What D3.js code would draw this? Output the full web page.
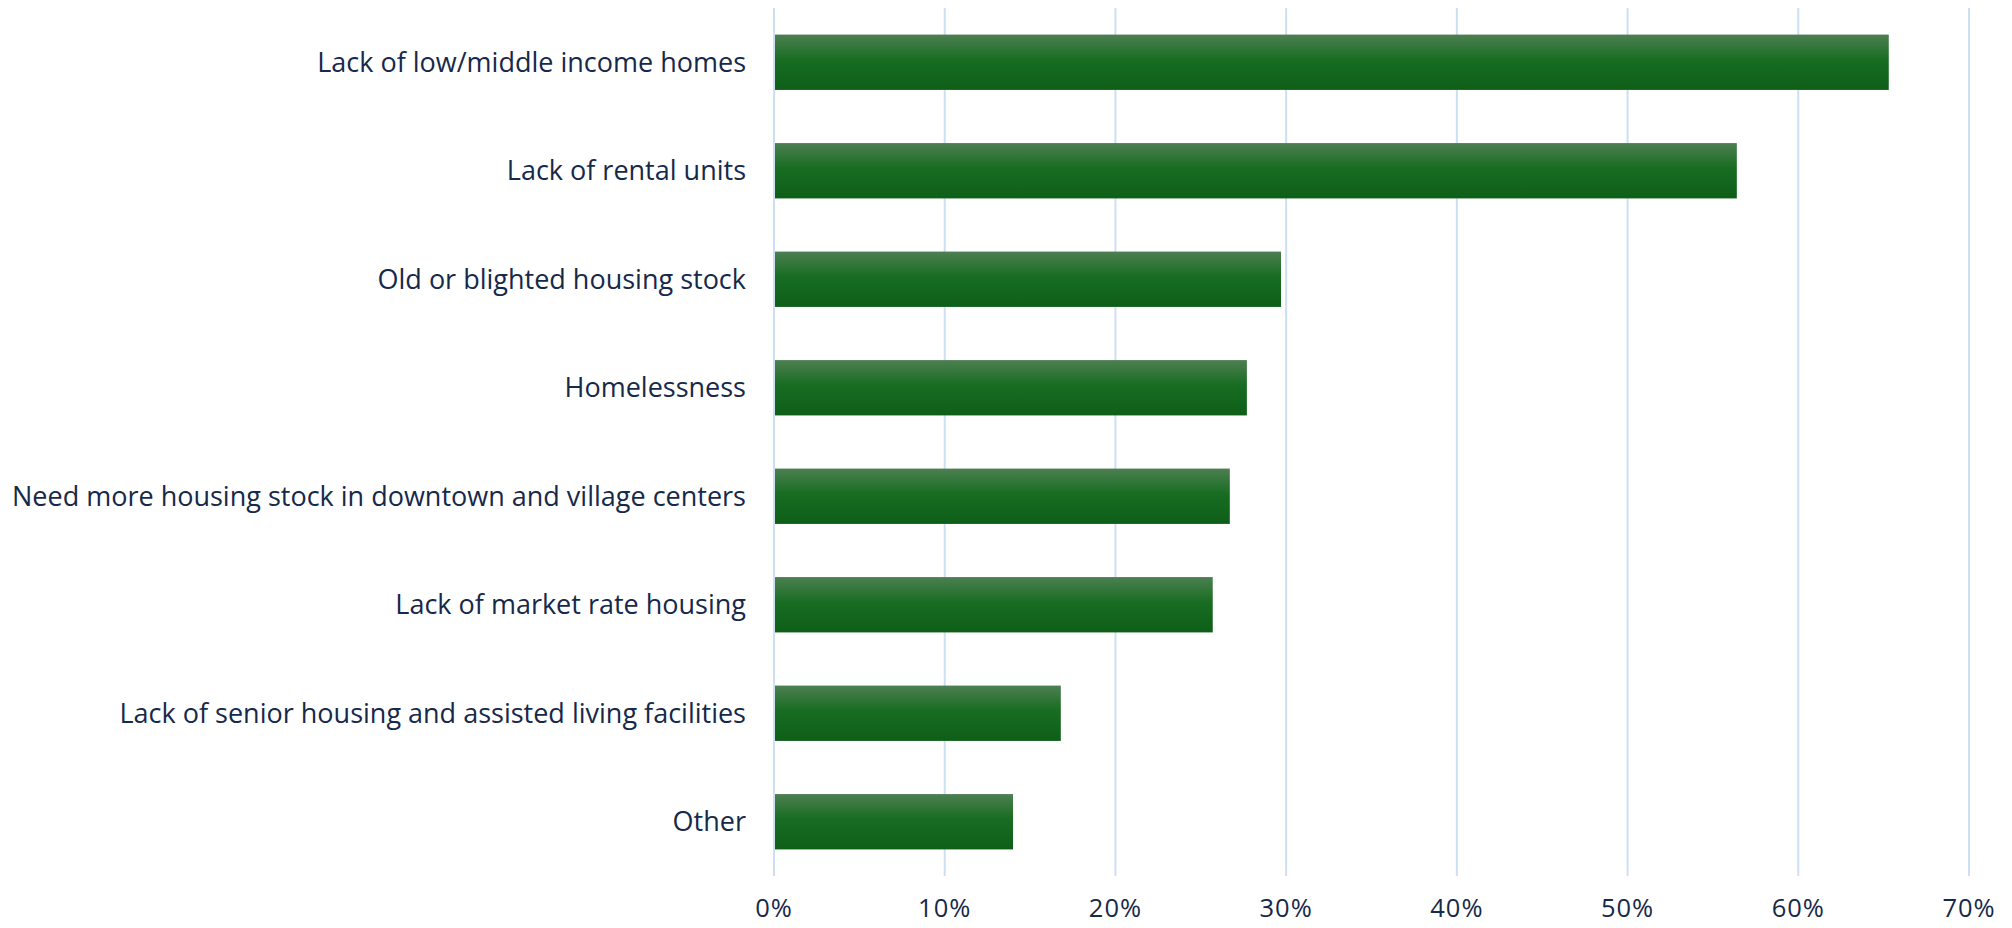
<!DOCTYPE html>
<html>
<head>
<meta charset="utf-8">
<script src="https://cdn.jsdelivr.net/npm/d3@7"></script>
<style>
  body { margin: 0; background: #fff; }
  text { font-family: "Open Sans", "Noto Sans", sans-serif; fill: #16294a; }
</style>
</head>
<body>
<script>
// #### DATA ####
var categories = [
  "Lack of low/middle income homes",
  "Lack of rental units",
  "Old or blighted housing stock",
  "Homelessness",
  "Need more housing stock in downtown and village centers",
  "Lack of market rate housing",
  "Lack of senior housing and assisted living facilities",
  "Other"
];
var values = [0.653, 0.564, 0.297, 0.277, 0.267, 0.257, 0.168, 0.140];
var tickValues = [0, 0.1, 0.2, 0.3, 0.4, 0.5, 0.6, 0.7];

var data = categories.map(function(c, i) { return {name: c, value: values[i]}; });

// #### layout ####
var width_outer = 2012;
var height_outer = 928;
var margin = {top: 8, right: 43, bottom: 52, left: 774};

var svg = d3.select("body").append("svg")
  .attr("width", width_outer)
  .attr("height", height_outer);

var defs = svg.append("defs");
var grad = defs.append("linearGradient")
  .attr("id", "barGrad")
  .attr("x1", 0).attr("y1", 0).attr("x2", 0).attr("y2", 1);
grad.append("stop").attr("offset", "0%").attr("stop-color", "#4d7f52");
grad.append("stop").attr("offset", "45%").attr("stop-color", "#186d22");
grad.append("stop").attr("offset", "100%").attr("stop-color", "#0e5e18");

var x = d3.scaleLinear()
  .domain([0, 0.7])
  .range([margin.left, width_outer - margin.right]);

var y = d3.scaleBand()
  .domain(categories)
  .range([margin.top, height_outer - margin.bottom])
  .paddingInner(0.49)
  .paddingOuter(0.245);

// gridlines
svg.append("g")
  .selectAll("line")
  .data(tickValues)
  .enter().append("line")
  .attr("x1", function(d) { return x(d); })
  .attr("x2", function(d) { return x(d); })
  .attr("y1", margin.top)
  .attr("y2", height_outer - margin.bottom)
  .style("stroke", "#cddff3")
  .style("stroke-width", 2);

// bars
svg.append("g")
  .selectAll("rect")
  .data(data)
  .enter().append("rect")
  .attr("x", x(0) + 1)
  .attr("y", function(d) { return y(d.name); })
  .attr("width", function(d) { return x(d.value) - x(0) - 1; })
  .attr("height", y.bandwidth())
  .style("fill", "url(#barGrad)");

// category labels
svg.append("g")
  .selectAll("text")
  .data(data)
  .enter().append("text")
  .attr("x", x(0) - 28)
  .attr("y", function(d) { return y(d.name) + y.bandwidth() / 2; })
  .attr("dy", "0.36em")
  .attr("text-anchor", "end")
  .style("font-size", "27px")
  .text(function(d) { return d.name; });

// x axis labels
var fmt = d3.format(".0%");
svg.append("g")
  .selectAll("text")
  .data(tickValues)
  .enter().append("text")
  .attr("x", function(d) { return x(d); })
  .attr("y", 917)
  .attr("text-anchor", "middle")
  .style("font-size", "25.5px")
  .style("letter-spacing", "1px")
  .text(function(d) { return fmt(d); });
</script>
</body>
</html>
